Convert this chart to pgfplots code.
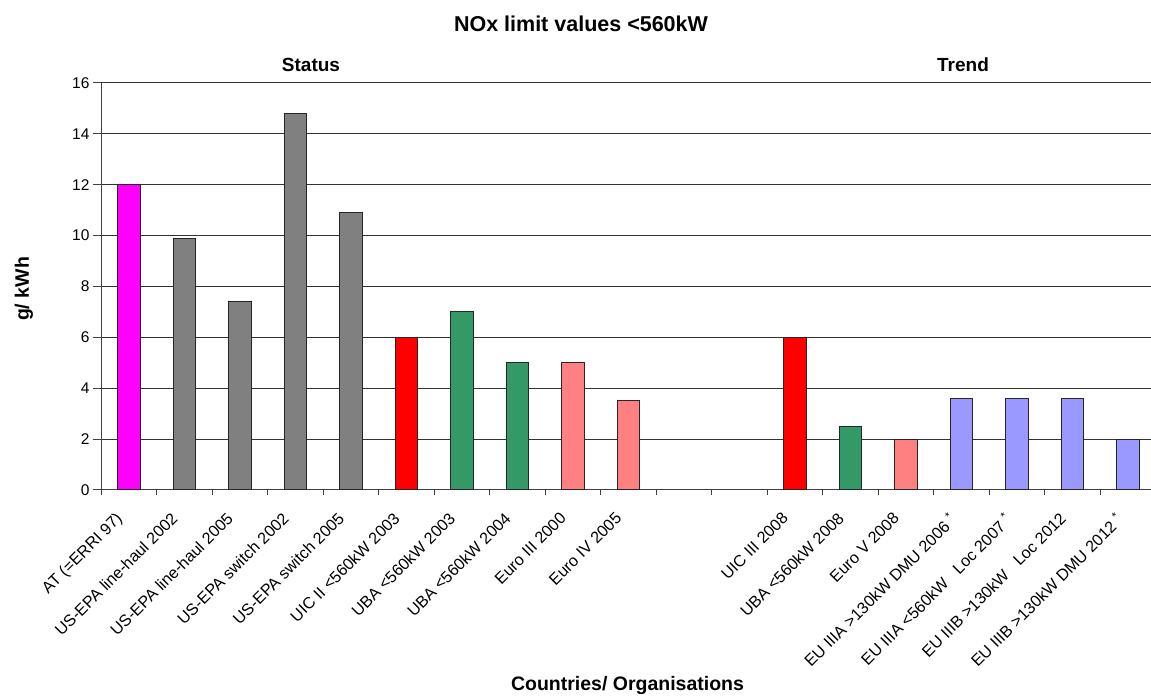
\documentclass[border=0pt]{standalone}
\usepackage{fontspec}
\setmainfont{Liberation Sans}
\usepackage{pgfplots}
\pgfplotsset{compat=1.18}

\definecolor{cMag}{HTML}{FF00FF}
\definecolor{cGray}{HTML}{808080}
\definecolor{cRed}{HTML}{FF0000}
\definecolor{cGreen}{HTML}{339966}
\definecolor{cPink}{HTML}{FF8080}
\definecolor{cBlue}{HTML}{9999FF}

\begin{document}
\begin{tikzpicture}
\path[use as bounding box] (0,0) rectangle (1151pt,698pt);
\begin{axis}[
  at={(101pt,208pt)}, anchor=south west,
  scale only axis, width=1055pt, height=407pt,
  xmin=-0.5, xmax=18.5, ymin=0, ymax=16,
  axis lines*=left, axis line style={-, draw=black!75, line width=1pt},
  ytick={0,2,...,16},
  xtick={0,...,18},
  minor xtick={-0.5,0.5,...,17.5},
  xticklabels={{AT (=ERRI 97)},{US-EPA line-haul 2002},{US-EPA line-haul 2005},
    {US-EPA switch 2002},{US-EPA switch 2005},{UIC II <560kW 2003},
    {UBA <560kW 2003},{UBA <560kW 2004},{Euro III 2000},{Euro IV 2005},{},{},
    {UIC III 2008},{UBA <560kW 2008},{Euro V 2008},
    {EU IIIA >130kW DMU 2006 \textsuperscript{*}},
    {EU IIIA <560kW\ \ \ Loc 2007 \textsuperscript{*}},
    {EU IIIB >130kW\ \ \ Loc 2012},
    {EU IIIB >130kW DMU 2012 \textsuperscript{*}}},
  tick align=outside,
  major x tick style={draw=none},
  minor x tick style={draw=black!75, line width=1pt},
  ytick style={draw=black!75, line width=1pt},
  major tick length=8pt, minor tick length=5pt,
  ymajorgrids, grid style={draw=black!80, line width=1pt},
  tick label style={font=\fontsize{15.5}{18}\selectfont},
  /pgf/number format/assume math mode=true,
  xticklabel style={font=\fontsize{16.2}{19}\selectfont,
    xshift=-14pt, yshift=-8.5pt, rotate=45, anchor=north east},
  ybar, bar width=22.5pt,
  every axis plot/.append style={draw=black!85, line width=1pt, bar shift=0pt},
  clip=false,
]
\addplot[fill=cMag] coordinates {(0,12)};
\addplot[fill=cGray] coordinates {(1,9.9) (2,7.4) (3,14.8) (4,10.9)};
\addplot[fill=cRed] coordinates {(5,6) (12,6)};
\addplot[fill=cGreen] coordinates {(6,7) (7,5) (13,2.5)};
\addplot[fill=cPink] coordinates {(8,5) (9,3.5) (14,2)};
\addplot[fill=cBlue] coordinates {(15,3.6) (16,3.6) (17,3.6) (18,2)};
\end{axis}
\node[font=\fontsize{21.5}{25}\selectfont\bfseries] at (581pt,674pt) {NOx limit values <560kW};
\node[font=\fontsize{19}{22}\selectfont\bfseries] at (311pt,633pt) {Status};
\node[font=\fontsize{19}{22}\selectfont\bfseries] at (963pt,633pt) {Trend};
\node[font=\fontsize{19.5}{22}\selectfont\bfseries, rotate=90] at (24pt,409pt) {g/ kWh};
\node[font=\fontsize{19.5}{22}\selectfont\bfseries] at (627.5pt,12.5pt) {Countries/ Organisations};
\end{tikzpicture}
\end{document}
